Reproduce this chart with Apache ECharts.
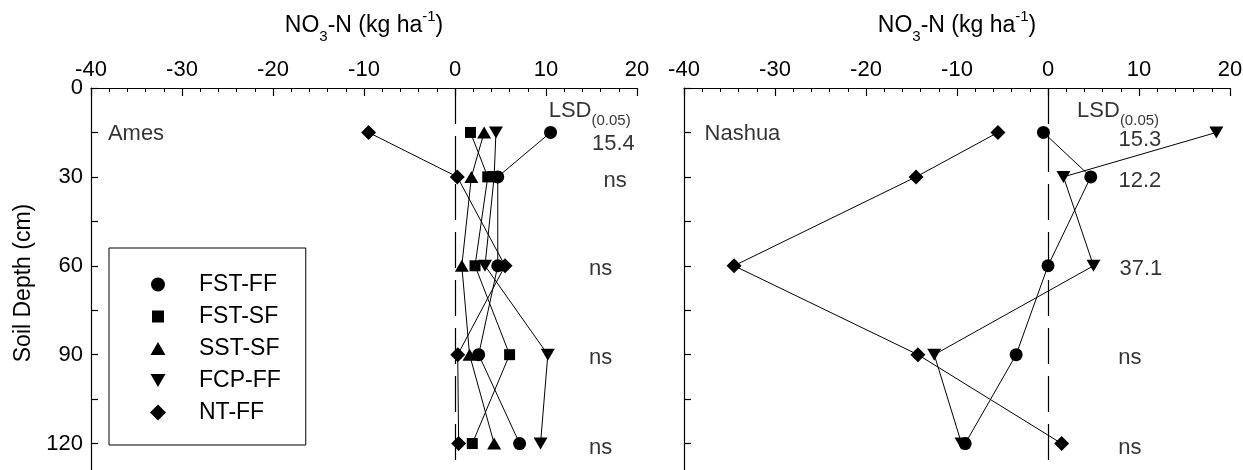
<!DOCTYPE html>
<html>
<head>
<meta charset="utf-8">
<script src="https://cdn.jsdelivr.net/npm/echarts@6/dist/echarts.min.js"></script>
<style>
html,body{margin:0;padding:0;background:#fff;}
#chart{width:1243px;height:470px;}
</style>
</head>
<body>
<div id="chart"></div>
<script>
// ---- data ----
const depths = [15, 30, 60, 90, 120];
const xTicks = [-40, -30, -20, -10, 0, 10, 20];
const yTicks = [0, 30, 60, 90, 120];
const seriesNames = ['FST-FF', 'FST-SF', 'SST-SF', 'FCP-FF', 'NT-FF'];

// Ames (kg ha-1)
const amesFSTFF = [10.5, 4.7, 4.7, 2.6, 7.1];
const amesFSTSF = [1.7, 3.6, 2.2, 6.0, 1.9];
const amesSSTSF = [3.2, 1.8, 0.75, 1.6, 4.3];
const amesFCPFF = [4.5, 4.3, 3.3, 10.2, 9.4];
const amesNTFF = [-9.5, 0.25, 5.5, 0.3, 0.4];

// Nashua (kg ha-1)
const nashuaFSTFF = [-0.5, 4.7, 0.0, -3.5, -9.1];
const nashuaFCPFF = [18.5, 1.7, 5.0, -12.5, -9.5];
const nashuaNTFF = [-5.5, -14.5, -34.5, -14.3, 1.5];

// LSD(0.05) annotations
const amesLSD = ['15.4', 'ns', 'ns', 'ns', 'ns'];
const nashuaLSD = ['15.3', '12.2', '37.1', 'ns', 'ns'];
const amesLSDx = [17.4, 17.6, 16.0, 16.0, 16.0];
const nashuaLSDx = [10.1, 10.1, 10.2, 9.0, 9.0];
const amesLSDdepth = [19, 31.2, 61, 91, 121.5];
const nashuaLSDdepth = [17.5, 31.2, 61, 91, 121.5];

// ---- build ----
const FONT = 'Liberation Sans, Arial, Helvetica, sans-serif';
const TXT = 22;
const symbols = {
  'FST-FF': {symbol: 'circle', size: 13, rotate: 0},
  'FST-SF': {symbol: 'rect', size: 11, rotate: 0},
  'SST-SF': {symbol: 'triangle', size: [14, 12], rotate: 0},
  'FCP-FF': {symbol: 'triangle', size: [14, 12], rotate: 180},
  'NT-FF': {symbol: 'diamond', size: 15, rotate: 0}
};
const pair = (xs) => xs.map((v, i) => [v, depths[i]]);

function lineSeries(name, xs, idx) {
  const s = symbols[name];
  return {
    type: 'line', name: name, xAxisIndex: idx, yAxisIndex: idx,
    data: pair(xs), symbol: s.symbol, symbolSize: s.size, symbolRotate: s.rotate,
    showAllSymbol: true, silent: true, animation: false,
    lineStyle: {color: '#000', width: 1},
    itemStyle: {color: '#000', borderWidth: 0},
    emphasis: {disabled: true}
  };
}

const richText = {
  sub: {fontSize: 15, fontFamily: FONT, color: '#000', verticalAlign: 'bottom', lineHeight: 34},
  m: {fontSize: TXT, fontFamily: FONT, color: '#000', lineHeight: 24}
};

function annotSeries(idx, lsd, lsdx, lsdy, placeName, placeX, headerX) {
  const data = [];
  data.push({value: [placeX, 15.5], name: placeName,
    label: {position: 'right', distance: 0, formatter: '{m|{b}}'}});
  data.push({value: [headerX, 7.8], name: 'LSD',
    label: {formatter: '{m|LSD}{sub|(0.05)}'}});
  lsd.forEach((t, i) => data.push({value: [lsdx[i], lsdy[i]], name: t}));
  return {
    type: 'scatter', xAxisIndex: idx, yAxisIndex: idx, data: data,
    symbol: 'rect', symbolSize: 1, silent: true, animation: false,
    itemStyle: {color: 'rgba(0,0,0,0)'},
    label: {show: true, position: 'inside', formatter: '{m|{b}}', color: '#000',
      textBorderWidth: 0, rich: richText},
    emphasis: {disabled: true}
  };
}

const gridTop = 88, gridH = 400, gridW = 546;
const grids = [
  {left: 91, top: gridTop, width: gridW, height: gridH, outerBoundsMode: 'none', containLabel: false},
  {left: 684, top: gridTop, width: gridW, height: gridH, outerBoundsMode: 'none', containLabel: false}
];

const nameRich = {
  n: {fontSize: 23, fontFamily: FONT, color: '#000', lineHeight: 26},
  s: {fontSize: 15, fontFamily: FONT, color: '#000', verticalAlign: 'bottom', lineHeight: 36},
  p: {fontSize: 15, fontFamily: FONT, color: '#000', verticalAlign: 'top', lineHeight: 36, padding: [1, 0, 0, 0]}
};

function xAxisDef(idx) {
  return {
    type: 'value', gridIndex: idx, position: 'top',
    min: xTicks[0], max: xTicks[xTicks.length - 1], interval: xTicks[1] - xTicks[0],
    name: '{n|NO}{s|3}{n|-N (kg ha}{p|-1}{n|)}', nameLocation: 'middle', nameGap: 44,
    nameTextStyle: {rich: nameRich},
    axisLine: {show: true, onZero: false, lineStyle: {color: '#000', width: 1.2}},
    axisTick: {show: true, inside: true, length: 8, lineStyle: {color: '#000', width: 1.2}},
    minorTick: {show: true, splitNumber: 5, length: 4, lineStyle: {color: '#000', width: 1}},
    axisLabel: {show: true, color: '#000', fontSize: TXT, fontFamily: FONT, margin: 7,
      formatter: (v) => xTicks.includes(v) ? String(v) : ''},
    splitLine: {show: false}, minorSplitLine: {show: false}
  };
}
function yAxisDef(idx) {
  return {
    type: 'value', gridIndex: idx, inverse: true, min: 0, max: 135, interval: 15,
    name: idx === 0 ? 'Soil Depth (cm)' : '', nameLocation: 'middle', nameGap: 56, nameRotate: 90,
    nameTextStyle: {color: '#000', fontSize: 23, fontFamily: FONT, padding: [0, 0, 0, 10]},
    axisLine: {show: true, onZero: false, lineStyle: {color: '#000', width: 1.2}},
    axisTick: {show: true, inside: true, length: 7, lineStyle: {color: '#000', width: 1.2}},
    axisLabel: {show: idx === 0, color: '#000', fontSize: TXT, fontFamily: FONT, margin: 8,
      formatter: (v) => yTicks.includes(v) ? String(v) : ''},
    splitLine: {show: false}
  };
}

const zeroLine = {
  silent: true, symbol: 'none', animation: false,
  label: {show: false},
  lineStyle: {color: '#000', width: 1.2, type: [36, 12]},
  data: [{xAxis: 0}]
};

const series = [
  lineSeries('FST-FF', amesFSTFF, 0),
  lineSeries('FST-SF', amesFSTSF, 0),
  lineSeries('SST-SF', amesSSTSF, 0),
  lineSeries('FCP-FF', amesFCPFF, 0),
  lineSeries('NT-FF', amesNTFF, 0),
  lineSeries('FST-FF', nashuaFSTFF, 1),
  lineSeries('FCP-FF', nashuaFCPFF, 1),
  lineSeries('NT-FF', nashuaNTFF, 1),
  annotSeries(0, amesLSD, amesLSDx, amesLSDdepth, 'Ames', -38.2, 14.8),
  annotSeries(1, nashuaLSD, nashuaLSDx, nashuaLSDdepth, 'Nashua', -37.8, 7.7)
];
series[8].markLine = zeroLine;
series[9].markLine = zeroLine;

const anchors = 'M0,0L0.01,0ZM16,16L16.01,16Z';
const legendIcons = {
  'FST-FF': 'path://' + anchors + 'M1,8A7,7 0 1 1 15,8A7,7 0 1 1 1,8Z',
  'FST-SF': 'path://' + anchors + 'M2,2L14,2L14,14L2,14Z',
  'SST-SF': 'path://' + anchors + 'M8,1.5L15.5,14.5L0.5,14.5Z',
  'FCP-FF': 'path://' + anchors + 'M0.5,1.5L15.5,1.5L8,14.5Z',
  'NT-FF': 'path://M8,0L16,8L8,16L0,8Z'
};

const option = {
  backgroundColor: '#fff',
  animation: false,
  grid: grids,
  xAxis: [xAxisDef(0), xAxisDef(1)],
  yAxis: [yAxisDef(0), yAxisDef(1)],
  legend: {
    orient: 'vertical', left: 109, top: 248,
    padding: [25, 25, 21, 41], itemGap: 9, itemWidth: 16, itemHeight: 16,
    borderColor: '#000', borderWidth: 1, backgroundColor: '#fff',
    selectedMode: false,
    itemStyle: {color: '#000', borderWidth: 0},
    textStyle: {color: '#000', fontSize: 23, lineHeight: 23, fontFamily: FONT, padding: [0, 0, 0, 28]},
    data: seriesNames.map(n => ({name: n, icon: legendIcons[n]}))
  },
  series: series
};

const chart = echarts.init(document.getElementById('chart'), null, {renderer: 'canvas'});
chart.setOption(option);
</script>
</body>
</html>
